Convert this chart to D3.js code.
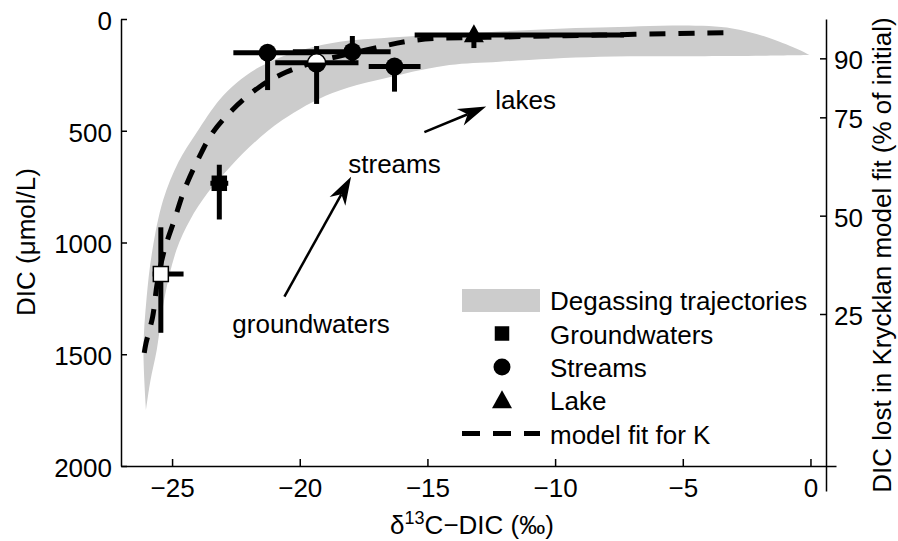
<!DOCTYPE html>
<html>
<head>
<meta charset="utf-8">
<script src="https://cdn.jsdelivr.net/npm/d3@7"></script>
<style>
  body { margin: 0; background: #fff; }
  svg { display: block; font-family: "Liberation Sans", Arial, sans-serif; }
</style>
</head>
<body>
<div id="chart"></div>
<script>
// ---- data ----
// degassing envelope: left edge (tip -> right end) and right edge (right end -> tip)
const bandLeftX   = [-26.02, -26.12, -26.0, -25.77, -25.35, -24.75, -24.05, -23.15, -22.48, -21.58, -20.29, -18.72, -16.1, -12.0, -8.26, -3.06, -0.7, -0.04]
const bandLeftDIC = [1750, 1480, 1250, 1034, 810, 640, 510, 362, 286, 215, 152, 107, 81, 55, 38, 42, 125, 161]
const bandRightX   = [-0.04, -3.06, -8.26, -12.18, -14.14, -16.1, -18.72, -20.68, -21.97, -22.87, -23.62, -24.3, -24.83, -25.3, -25.6, -25.85, -26.02]
const bandRightDIC = [161, 166, 169, 191, 206, 250, 331, 452, 573, 680, 780, 900, 1034, 1250, 1481, 1620, 1750]

// model fit for K
const fitX   = [-26.09, -26.02, -25.76, -25.58, -25.3, -24.91, -24.52, -23.93, -23.42, -22.64, -21.58, -20.52, -19.35, -17.39, -15.43, -12.18, -8.26, -4.35, -3.17]
const fitDIC = [1494, 1450, 1332, 1181, 1033, 899, 765, 616, 510, 407, 304, 237, 192, 139, 94, 81, 72, 63, 61]

// groundwaters
const gwX      = [-23.15, -25.44]
const gwDIC    = [735, 1141]
const gwXLo    = [-23.5, -25.76]
const gwXHi    = [-22.8, -24.55]
const gwDICLo  = [652, 932]
const gwDICHi  = [897, 1404]
const gwStyle  = ['filled', 'open']

// streams
const stX     = [-21.26, -19.34, -17.94, -16.29]
const stDIC   = [151, 196, 146, 213]
const stXLo   = [-22.6, -20.96, -20.27, -17.3]
const stXHi   = [-19.5, -17.7, -16.44, -15.27]
const stDICLo = [151, 121, 76, 213]
const stDICHi = [318, 380, 200, 325]
const stStyle = ['filled', 'half', 'filled', 'filled']

// lake
const lkX     = [-13.18]
const lkDIC   = [72]
const lkXLo   = [-15.5]
const lkXHi   = [-7.3]
const lkDICLo = [72]
const lkDICHi = [130]

const xTicks  = [-25, -20, -15, -10, -5, 0]
const yTicks  = [0, 500, 1000, 1500, 2000]
const y2Ticks = [25, 50, 75, 90]

const legendLabels = ['Degassing trajectories', 'Groundwaters', 'Streams', 'Lake', 'model fit for K']

// annotations: [label, textX, textDIC, arrowFromX, arrowFromDIC, arrowToX, arrowToDIC]
const notes = [
    ['groundwaters', -22.64, 1405, -20.6, 1242, -17.99, 706],
    ['streams', -18.1, 690, -15.12, 506, -12.7, 392],
    ['lakes', -12.34, 403, null, null, null, null]
]

// ---- canvas ----
const svg_width = 898
const svg_height = 541
const FONT = 26

const svg = d3.select('#chart').append('svg')
    .attr('width', svg_width).attr('height', svg_height)

const x = d3.scaleLinear().domain([-27, 1]).range([121, 836])
const y = d3.scaleLinear().domain([0, 2000]).range([19, 466])
const y2 = d3.scaleLinear().domain([-20, 100]).range([491, 19])

// band
const band = bandLeftX.map((d, i) => [d, bandLeftDIC[i]])
    .concat(bandRightX.map((d, i) => [d, bandRightDIC[i]]))
const bandLine = d3.line().x(d => x(d[0])).y(d => y(d[1])).curve(d3.curveCatmullRom)
svg.append('path')
    .attr('d', bandLine(band) + 'Z')
    .attr('fill', '#cccccc')

// model fit
const fitLine = d3.line().x(d => x(d[0])).y(d => y(d[1])).curve(d3.curveCatmullRom)
svg.append('path')
    .attr('d', fitLine(fitX.map((d, i) => [d, fitDIC[i]])))
    .attr('fill', 'none')
    .attr('stroke', '#000')
    .attr('stroke-width', 5)
    .attr('stroke-dasharray', '16,13')

// error bars
function errBars(xs, ds, xlo, xhi, dlo, dhi) {
    const g = svg.append('g').attr('stroke', '#000').attr('stroke-width', 5)
    xs.forEach((d, i) => {
        g.append('line').attr('x1', x(xlo[i])).attr('x2', x(xhi[i]))
            .attr('y1', y(ds[i])).attr('y2', y(ds[i]))
        g.append('line').attr('x1', x(d)).attr('x2', x(d))
            .attr('y1', y(dlo[i])).attr('y2', y(dhi[i]))
    })
}
errBars(gwX, gwDIC, gwXLo, gwXHi, gwDICLo, gwDICHi)
errBars(stX, stDIC, stXLo, stXHi, stDICLo, stDICHi)
errBars(lkX, lkDIC, lkXLo, lkXHi, lkDICLo, lkDICHi)

// markers
function square(g, cx, cy, s, style) {
    g.append('rect').attr('x', cx - s / 2).attr('y', cy - s / 2)
        .attr('width', s).attr('height', s)
        .attr('fill', style === 'open' ? '#fff' : '#000')
        .attr('stroke', '#000').attr('stroke-width', 1.5)
}
function circle(g, cx, cy, r, style) {
    if (style === 'half') {
        g.append('path')
            .attr('d', `M${cx - r},${cy}A${r},${r} 0 0 1 ${cx + r},${cy}Z`)
            .attr('fill', '#fff')
        g.append('path')
            .attr('d', `M${cx - r},${cy}A${r},${r} 0 0 0 ${cx + r},${cy}Z`)
            .attr('fill', '#000')
        g.append('circle').attr('cx', cx).attr('cy', cy).attr('r', r)
            .attr('fill', 'none').attr('stroke', '#000').attr('stroke-width', 1.5)
    } else {
        g.append('circle').attr('cx', cx).attr('cy', cy).attr('r', r).attr('fill', '#000')
    }
}
function triangle(g, cx, cy, w, h) {
    g.append('path')
        .attr('d', `M${cx},${cy - h * 0.6}L${cx + w / 2},${cy + h * 0.4}L${cx - w / 2},${cy + h * 0.4}Z`)
        .attr('fill', '#000')
}
const marks = svg.append('g')
gwX.forEach((d, i) => square(marks, x(d), y(gwDIC[i]), gwStyle[i] === 'open' ? 15 : 14, gwStyle[i]))
stX.forEach((d, i) => circle(marks, x(d), y(stDIC[i]), 9, stStyle[i]))
lkX.forEach((d, i) => triangle(marks, x(d), y(lkDIC[i]), 20, 18))

// annotations
function arrow(x1, y1, x2, y2) {
    const a = Math.atan2(y2 - y1, x2 - x1)
    const L = 28, W = 9, N = 20
    const bx = x2 - L * Math.cos(a), by = y2 - L * Math.sin(a)
    const nx = x2 - N * Math.cos(a), ny = y2 - N * Math.sin(a)
    const px = -Math.sin(a), py = Math.cos(a)
    svg.append('line').attr('x1', x1).attr('y1', y1).attr('x2', nx).attr('y2', ny)
        .attr('stroke', '#000').attr('stroke-width', 2.5)
    svg.append('path')
        .attr('d', `M${x2},${y2}L${bx + px * W},${by + py * W}L${nx},${ny}L${bx - px * W},${by - py * W}Z`)
        .attr('fill', '#000')
}
notes.forEach(n => {
    svg.append('text').attr('x', x(n[1])).attr('y', y(n[2]))
        .attr('font-size', FONT).text(n[0])
    if (n[3] !== null) arrow(x(n[3]), y(n[4]), x(n[5]), y(n[6]))
})

// axes
function styleAxis(g) {
    g.selectAll('path, line').attr('stroke', '#000').attr('stroke-width', 1.5)
    g.selectAll('text').attr('font-size', FONT)
        .attr('font-family', '"Liberation Sans", Arial, sans-serif').attr('fill', '#000')
}
const yAxis = d3.axisLeft(y).tickValues(yTicks).tickFormat(d3.format('d'))
    .tickSize(-6).tickSizeOuter(0).tickPadding(9)
svg.append('g').attr('transform', 'translate(121,0)').call(yAxis).call(styleAxis)
    .selectAll('text').attr('dy', '0.4em')

const xAxis = d3.axisBottom(x).tickValues(xTicks).tickSize(-7).tickSizeOuter(0).tickPadding(13)
svg.append('g').attr('transform', 'translate(0,466)').call(xAxis).call(styleAxis)

const y2Axis = d3.axisRight(y2).tickValues(y2Ticks).tickSize(-6).tickSizeOuter(0).tickPadding(8)
svg.append('g').attr('transform', 'translate(826,0)').call(y2Axis).call(styleAxis)
    .selectAll('text').attr('dy', '0.4em')

// axis labels
svg.append('text').attr('transform', 'translate(35,242) rotate(-90)')
    .attr('text-anchor', 'middle').attr('font-size', FONT).text('DIC (μmol/L)')

svg.append('text').attr('transform', 'translate(891,255) rotate(-90)')
    .attr('text-anchor', 'middle').attr('font-size', FONT)
    .text('DIC lost in Krycklan model fit (% of initial)')

const xl = svg.append('text').attr('x', 472).attr('y', 534)
    .attr('text-anchor', 'middle').attr('font-size', FONT)
xl.append('tspan').text('δ')
xl.append('tspan').attr('font-size', 18).attr('dy', -10).text('13')
xl.append('tspan').attr('dy', 10).text('C−DIC (‰)')

// legend
const lg = svg.append('g')
const rowY = [300, 333.5, 367, 400, 433.5]
lg.append('rect').attr('x', 462).attr('y', 289).attr('width', 78).attr('height', 23).attr('fill', '#cccccc')
square(lg, 502, rowY[1], 13, 'filled')
circle(lg, 502, rowY[2], 8.5, 'filled')
triangle(lg, 502, rowY[3] + 1, 20, 18)
lg.append('line').attr('x1', 462).attr('x2', 540).attr('y1', rowY[4]).attr('y2', rowY[4])
    .attr('stroke', '#000').attr('stroke-width', 5).attr('stroke-dasharray', '18,13')
legendLabels.forEach((t, i) => {
    lg.append('text').attr('x', 550).attr('y', rowY[i] + 10)
        .attr('font-size', FONT).text(t)
})
</script>
</body>
</html>
